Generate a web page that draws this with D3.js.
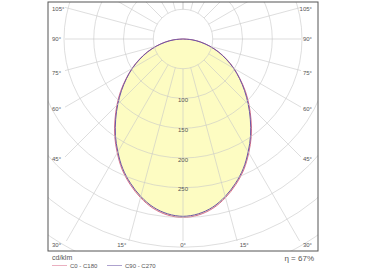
<!DOCTYPE html>
<html>
<head>
<meta charset="utf-8">
<script src="https://cdn.jsdelivr.net/npm/d3@7"></script>
<style>
  body { margin: 0; background: #fff; }
  text { font-family: "Liberation Sans", Arial, sans-serif; fill: #555; }
</style>
</head>
<body>
<svg id="chart" width="370" height="274"></svg>
<script>
// Luminous intensity values (cd/klm), per gamma angle
var gammaAngles = [0, 5, 10, 15, 20, 25, 30, 35, 40, 45, 50, 55, 60, 65, 70, 75, 80, 85, 90];
var c0c180 = [300, 297, 289, 276, 260, 242, 221, 200, 178, 157, 137, 117, 99, 81, 64, 47, 31, 16, 0];
var c90c270 = [298, 295, 287, 274, 258, 240, 219, 198, 176, 155, 135, 116, 98, 80, 63, 46, 30, 15, 0];
var ringValues = [50, 100, 150, 200, 250, 300, 350, 400];
var ringLabels = [100, 150, 200, 250];
var angleTicks = [0, 15, 30, 45, 60, 75, 90, 105];
var seriesNames = ["C0 - C180", "C90 - C270"];
var efficiency = "η = 67%";

var svg = d3.select("#chart");
var frame = { x0: 48, y0: 2, x1: 318, y1: 251 };
var inner = { x0: 65, y0: 2, x1: 301, y1: 241 };
var cx = 183, cy = 39;

var r = d3.scaleLinear().domain([0, 300]).range([0, 178.5]);
var rad = function (deg) { return deg * Math.PI / 180; };

var defs = svg.append("defs");
defs.append("clipPath").attr("id", "frameClip").append("rect")
    .attr("x", frame.x0).attr("y", frame.y0)
    .attr("width", frame.x1 - frame.x0).attr("height", frame.y1 - frame.y0);
defs.append("clipPath").attr("id", "innerClip").append("rect")
    .attr("x", inner.x0).attr("y", inner.y0)
    .attr("width", inner.x1 - inner.x0).attr("height", inner.y1 - inner.y0);

// full curve from -90 to 90 (symmetric halves)
function buildPoints(vals) {
    var pts = [];
    for (var i = gammaAngles.length - 1; i > 0; i--) pts.push({ a: -gammaAngles[i], v: vals[i] });
    for (var j = 0; j < gammaAngles.length; j++) pts.push({ a: gammaAngles[j], v: vals[j] });
    return pts;
}
var radial = d3.lineRadial()
    .angle(function (d) { return Math.PI - rad(d.a); })
    .radius(function (d) { return r(d.v); })
    .curve(d3.curveCatmullRom);

var g = svg.append("g").attr("clip-path", "url(#frameClip)");
var plot = g.append("g").attr("transform", "translate(" + cx + "," + cy + ")");

// fill
plot.append("path")
    .attr("d", radial(buildPoints(c0c180)))
    .attr("fill", "#fdfcc2");

// circles
g.append("g").selectAll("circle")
    .data(ringValues)
    .enter().append("circle")
    .attr("cx", cx).attr("cy", cy)
    .attr("r", function (d) { return r(d); })
    .attr("fill", "none")
    .attr("stroke", "#c8c8c8")
    .attr("stroke-opacity", 0.75)
    .attr("stroke-width", 0.8);

// spokes
var spokeAngles = d3.range(-180, 181, 15);
g.append("g").attr("clip-path", "url(#innerClip)")
    .selectAll("line")
    .data(spokeAngles)
    .enter().append("line")
    .attr("x1", function (d) { return cx + r(50) * Math.sin(rad(d)); })
    .attr("y1", function (d) { return cy + r(50) * Math.cos(rad(d)); })
    .attr("x2", function (d) { return cx + r(600) * Math.sin(rad(d)); })
    .attr("y2", function (d) { return cy + r(600) * Math.cos(rad(d)); })
    .attr("stroke", "#c8c8c8")
    .attr("stroke-opacity", 0.75)
    .attr("stroke-width", 0.8);

// curves
var colors = ["#d86f8c", "#6b56a6"];
plot.append("path")
    .attr("d", radial(buildPoints(c0c180)))
    .attr("fill", "none").attr("stroke", colors[0]).attr("stroke-width", 1);
plot.append("path")
    .attr("d", radial(buildPoints(c90c270)))
    .attr("fill", "none").attr("stroke", colors[1]).attr("stroke-width", 1);

// ring labels
svg.append("g").selectAll("text")
    .data(ringLabels)
    .enter().append("text")
    .attr("x", cx)
    .attr("y", function (d) { return cy + r(d) + 2; })
    .attr("text-anchor", "middle")
    .attr("dominant-baseline", "middle")
    .attr("font-size", "6px")
    .attr("fill", "#444")
    .text(function (d) { return d; });

// angle labels
var angleG = svg.append("g");
[-1, 1].forEach(function (side) {
    angleTicks.forEach(function (a) {
        if (a === 0 && side === 1) return;
        var x, y, anchor;
        if (a === 0) {
            x = cx; y = 245; anchor = "middle";
        } else if (a === 15) {
            x = cx + side * ((245 - cy) * Math.tan(rad(a)) + 6); y = 245; anchor = "middle";
        } else if (a === 30) {
            x = side < 0 ? 52 : 312; y = 245; anchor = side < 0 ? "start" : "end";
        } else {
            var dx = side < 0 ? cx - inner.x0 : inner.x1 - cx;
            y = cy + dx * Math.cos(rad(a)) / Math.sin(rad(a)) + (a === 90 ? 0 : 2.5);
            x = side < 0 ? 52 : 312; anchor = side < 0 ? "start" : "end";
        }
        angleG.append("text")
            .attr("x", x).attr("y", y)
            .attr("text-anchor", anchor)
            .attr("dominant-baseline", "middle")
            .attr("font-size", "6px")
            .text(a + "°");
    });
});

// frame
svg.append("rect")
    .attr("x", frame.x0).attr("y", frame.y0)
    .attr("width", frame.x1 - frame.x0).attr("height", frame.y1 - frame.y0)
    .attr("fill", "none").attr("stroke", "#555").attr("stroke-width", 1);

// legend
svg.append("text").attr("x", 52).attr("y", 260).attr("font-size", "7px").text("cd/klm");
var legX = [52, 107];
seriesNames.forEach(function (name, i) {
    svg.append("line")
        .attr("x1", legX[i]).attr("x2", legX[i] + 15)
        .attr("y1", 265.5).attr("y2", 265.5)
        .attr("stroke", colors[i]).attr("stroke-opacity", 0.55).attr("stroke-width", 1);
    svg.append("text")
        .attr("x", legX[i] + 18).attr("y", 266)
        .attr("dominant-baseline", "middle")
        .attr("font-size", "6px")
        .text(name);
});
svg.append("text").attr("x", 314).attr("y", 261)
    .attr("text-anchor", "end").attr("font-size", "8px").text(efficiency);
</script>
</body>
</html>
